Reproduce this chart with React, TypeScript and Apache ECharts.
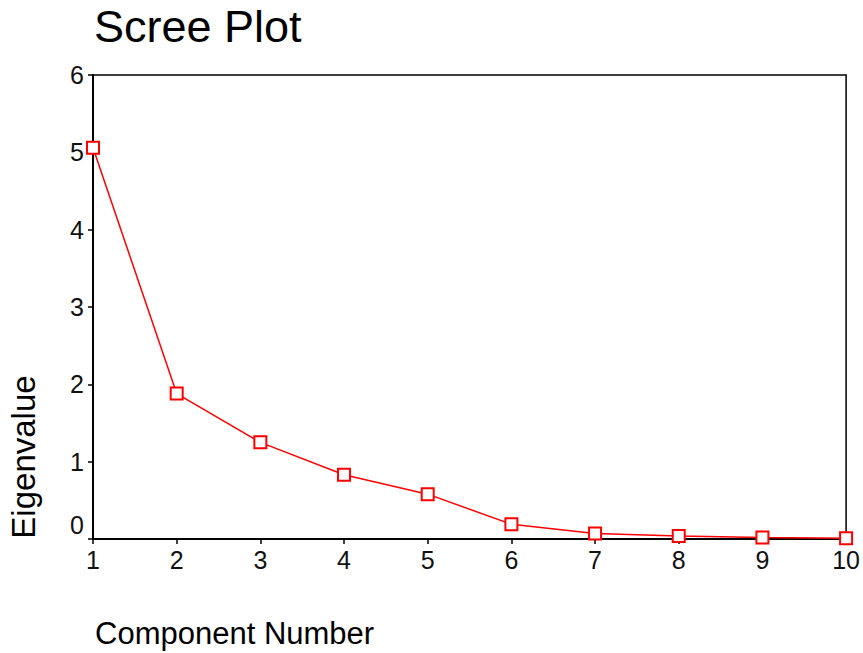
import React, { useEffect, useRef } from "react";
import * as echarts from "echarts";

const components = [1, 2, 3, 4, 5, 6, 7, 8, 9, 10];
const eigenvalues = [5.06, 1.88, 1.25, 0.83, 0.58, 0.19, 0.07, 0.04, 0.02, 0.01];
const yTicks = [0, 1, 2, 3, 4, 5, 6];
const xTicks = [1, 2, 3, 4, 5, 6, 7, 8, 9, 10];
const titleText = "Scree Plot";
const xName = "Component Number";
const yName = "Eigenvalue";

export default function App() {
  const ref = useRef<HTMLDivElement>(null);
  useEffect(() => {
    if (!ref.current) return;
    const chart = echarts.init(ref.current, null, { renderer: "svg" });
    const font = "'Liberation Sans', Arial, sans-serif";
    chart.setOption({
      animation: false,
      backgroundColor: "#ffffff",
      grid: {
        left: 93,
        top: 75,
        right: 15,
        bottom: 114,
        show: true,
        borderColor: "#000",
        borderWidth: 1.5,
        backgroundColor: "transparent",
      },
      xAxis: {
        type: "value",
        min: xTicks[0],
        max: xTicks[xTicks.length - 1],
        interval: 1,
        axisLine: { show: true, onZero: false, lineStyle: { color: "#000", width: 2 } },
        axisTick: { show: true, length: 5, lineStyle: { color: "#000", width: 1.5 } },
        axisLabel: { color: "#111", fontSize: 25, fontFamily: font, margin: 8 },
        splitLine: { show: false },
      },
      yAxis: {
        type: "value",
        min: yTicks[0],
        max: yTicks[yTicks.length - 1],
        interval: 1,
        axisLine: { show: true, lineStyle: { color: "#000", width: 2 } },
        axisTick: { show: true, length: 5, lineStyle: { color: "#000", width: 1.5 } },
        axisLabel: {
          color: "#111",
          fontSize: 25,
          fontFamily: font,
          margin: 9,
          formatter: (v: number) => (v === 0 ? "{z|0}" : String(v)),
          rich: { z: { fontSize: 25, fontFamily: font, color: "#111", padding: [0, 0, 28, 0] } },
        },
        splitLine: { show: false },
      },
      graphic: [
        {
          type: "text",
          x: 94,
          y: 26,
          style: {
            text: titleText,
            fontSize: 45,
            fontFamily: font,
            fill: "#000",
            align: "left",
            verticalAlign: "middle",
          },
        },
        {
          type: "text",
          x: 95,
          y: 633,
          style: {
            text: xName,
            fontSize: 31,
            fontFamily: font,
            fill: "#000",
            align: "left",
            verticalAlign: "middle",
          },
        },
        {
          type: "text",
          x: 23,
          y: 457,
          rotation: Math.PI / 2,
          style: {
            text: yName,
            fontSize: 33,
            fontFamily: font,
            fill: "#000",
            align: "center",
            verticalAlign: "middle",
          },
        },
      ],
      series: [
        {
          type: "line",
          data: components.map((c, i) => [c, eigenvalues[i]]),
          symbol: "emptyRect",
          symbolSize: 12,
          showAllSymbol: true,
          clip: false,
          lineStyle: { color: "#ff0000", width: 1.5 },
          itemStyle: { color: "#ff0000", borderColor: "#ff0000", borderWidth: 1.5 },
        },
      ],
    });
    return () => chart.dispose();
  }, []);
  return (
    <div
      ref={ref}
      style={{ position: "fixed", left: 0, top: 0, width: 863, height: 653 }}
    />
  );
}
